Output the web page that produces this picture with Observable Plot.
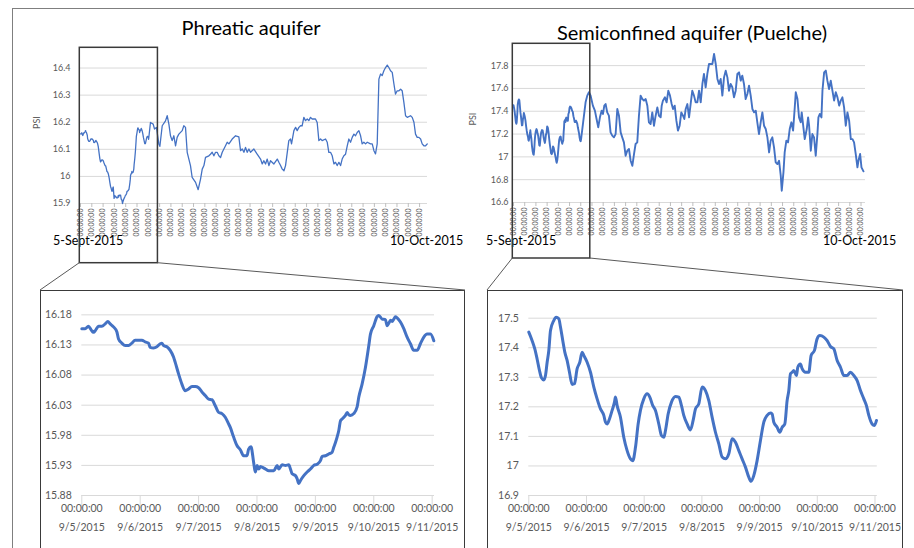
<!DOCTYPE html>
<html>
<head>
<meta charset="utf-8">
<script src="https://cdn.jsdelivr.net/npm/d3@7"></script>
<script src="https://cdn.jsdelivr.net/npm/@observablehq/plot@0.6"></script>
<style>
  html, body { margin: 0; padding: 0; background: #fff; }
  #fig { position: relative; width: 914px; height: 548px; overflow: hidden; font-family: Lato, "Open Sans", sans-serif; }
  .title { position: absolute; text-align: center; font-size: 20px; line-height: 24px; color: #000; white-space: nowrap; }
  .range { position: absolute; font-size: 12.5px; line-height: 15px; color: #000; white-space: nowrap; }
  .box { position: absolute; border: 1px solid #3a3a3a; box-sizing: border-box; }
</style>
</head>
<body>
<div id="fig"></div>
<script>
// ---- Pressure records, days after 5 Sept 2015 00:00 (UTC) ----

// Phreatic aquifer, detailed window 5–11 Sept
const phreaticDetailDays = [
  0, 0.057, 0.114, 0.16, 0.2, 0.24, 0.286, 0.343, 0.4, 0.446,
  0.486, 0.543, 0.6, 0.629, 0.686, 0.743, 0.8, 0.857, 0.914, 0.971,
  1.029, 1.086, 1.143, 1.171, 1.229, 1.286, 1.343, 1.371, 1.4, 1.457,
  1.514, 1.571, 1.6, 1.657, 1.714, 1.771, 1.829, 1.886, 1.943, 2.0,
  2.057, 2.114, 2.171, 2.229, 2.286, 2.343, 2.4, 2.457, 2.514, 2.543,
  2.6, 2.657, 2.714, 2.771, 2.829, 2.857, 2.897, 2.943, 2.971, 3.003,
  3.031, 3.06, 3.088, 3.145, 3.202, 3.288, 3.345, 3.374, 3.431, 3.488,
  3.545, 3.573, 3.602, 3.659, 3.687, 3.716, 3.745, 3.802, 3.859, 3.916,
  3.973, 4.03, 4.087, 4.116, 4.173, 4.23, 4.287, 4.315, 4.344, 4.372,
  4.401, 4.43, 4.458, 4.515, 4.544, 4.572, 4.601, 4.658, 4.715, 4.743,
  4.8, 4.858, 4.915, 4.943, 5.0, 5.057, 5.086, 5.143, 5.2, 5.229,
  5.257, 5.286, 5.314, 5.343, 5.371, 5.4, 5.457, 5.514, 5.571, 5.628,
  5.685, 5.742, 5.799, 5.857, 5.914, 5.971, 6.028
];
const phreaticDetailPsi = [
  16.157, 16.157, 16.161, 16.155, 16.151, 16.155, 16.161, 16.161, 16.165, 16.169,
  16.165, 16.160, 16.152, 16.140, 16.133, 16.129, 16.129, 16.133, 16.138, 16.138,
  16.138, 16.135, 16.133, 16.126, 16.125, 16.127, 16.132, 16.133, 16.129, 16.127,
  16.121, 16.110, 16.101, 16.082, 16.065, 16.054, 16.057, 16.061, 16.061, 16.059,
  16.052, 16.046, 16.040, 16.039, 16.029, 16.018, 16.016, 16.010, 15.999, 15.993,
  15.977, 15.963, 15.956, 15.946, 15.946, 15.957, 15.961, 15.935, 15.919, 15.930,
  15.924, 15.928, 15.927, 15.924, 15.921, 15.921, 15.930, 15.924, 15.931, 15.930,
  15.931, 15.924, 15.916, 15.913, 15.908, 15.900, 15.905, 15.913, 15.919, 15.924,
  15.930, 15.932, 15.938, 15.945, 15.946, 15.949, 15.952, 15.960, 15.968, 15.977,
  15.988, 16.004, 16.007, 16.013, 16.018, 16.014, 16.013, 16.016, 16.027, 16.043,
  16.065, 16.093, 16.129, 16.148, 16.162, 16.177, 16.179, 16.173, 16.172, 16.162,
  16.166, 16.171, 16.169, 16.173, 16.177, 16.175, 16.168, 16.157, 16.143, 16.132,
  16.121, 16.121, 16.132, 16.143, 16.148, 16.148, 16.137
];

// Phreatic aquifer, rest of the record
const phreaticLaterDays = [
  6.19, 6.43, 6.55, 6.72, 6.93, 7.02, 7.23, 7.52, 7.67, 7.82,
  7.96, 8.11, 8.26, 8.41, 8.55, 8.70, 9.00, 9.14, 9.29, 9.44,
  9.73, 9.88, 10.18, 10.41, 10.62, 10.77, 10.92, 11.06, 11.36, 11.50,
  11.65, 11.80, 11.95, 12.09, 12.24, 12.39, 12.54, 12.83, 12.98, 13.13,
  13.42, 13.72, 14.01, 14.16, 14.31, 14.46, 14.60, 14.75, 14.90, 15.04,
  15.34, 15.63, 15.93, 16.08, 16.22, 16.37, 16.52, 16.67, 16.81, 17.11,
  17.41, 17.55, 17.70, 17.85, 18.00, 18.14, 18.43, 18.58, 18.67, 18.88,
  19.03, 19.17, 19.32, 19.47, 19.61, 19.76, 19.91, 20.06, 20.20, 20.35,
  20.50, 20.79, 20.94, 21.09, 21.24, 21.38, 21.68, 21.83, 21.97, 22.12,
  22.27, 22.42, 22.56, 22.71, 22.86, 23.01, 23.15, 23.30, 23.45, 23.60,
  23.74, 23.89, 24.04, 24.19, 24.33, 24.48, 24.63, 24.78, 24.92, 25.07,
  25.22, 25.37, 25.66, 25.81, 25.96, 26.10, 26.25, 26.40, 26.55, 26.69,
  26.84, 26.99, 27.14, 27.28, 27.43, 27.58, 27.73, 27.87, 28.02, 28.17,
  28.32, 28.46, 28.61, 28.76, 28.91, 29.20, 29.35, 29.50, 29.64, 29.79,
  29.94, 30.09, 30.23, 30.38, 30.53, 30.68
];
const phreaticLaterPsi = [
  16.199, 16.193, 16.175, 16.181, 16.120, 16.111, 16.187, 16.205, 16.224, 16.193,
  16.150, 16.132, 16.150, 16.113, 16.144, 16.156, 16.169, 16.187, 16.181, 16.089,
  16.040, 15.996, 15.978, 15.951, 15.990, 16.027, 16.040, 16.070, 16.076, 16.082,
  16.089, 16.076, 16.089, 16.089, 16.076, 16.070, 16.089, 16.113, 16.126, 16.120,
  16.138, 16.150, 16.146, 16.095, 16.101, 16.089, 16.107, 16.089, 16.101, 16.089,
  16.101, 16.082, 16.064, 16.046, 16.058, 16.046, 16.064, 16.040, 16.058, 16.046,
  16.064, 16.052, 16.040, 16.027, 16.021, 16.040, 16.132, 16.138, 16.120, 16.169,
  16.181, 16.169, 16.181, 16.187, 16.187, 16.218, 16.206, 16.212, 16.206, 16.218,
  16.212, 16.212, 16.199, 16.132, 16.138, 16.132, 16.138, 16.126, 16.089, 16.089,
  16.076, 16.046, 16.052, 16.040, 16.052, 16.040, 16.064, 16.076, 16.082, 16.113,
  16.138, 16.126, 16.144, 16.156, 16.150, 16.162, 16.169, 16.150, 16.120, 16.126,
  16.120, 16.126, 16.120, 16.120, 16.095, 16.083, 16.120, 16.359, 16.378, 16.372,
  16.390, 16.402, 16.411, 16.402, 16.390, 16.384, 16.341, 16.304, 16.316, 16.316,
  16.322, 16.316, 16.273, 16.224, 16.218, 16.224, 16.218, 16.200, 16.156, 16.144,
  16.144, 16.138, 16.120, 16.113, 16.113, 16.120
];

// Semiconfined aquifer (Puelche), detailed window 5–11 Sept
const puelcheDetailDays = [
  0, 0.058, 0.104, 0.144, 0.185, 0.22, 0.26, 0.289, 0.318, 0.347,
  0.376, 0.433, 0.474, 0.52, 0.549, 0.589, 0.624, 0.664, 0.705, 0.751,
  0.791, 0.838, 0.884, 0.924, 0.953, 1.011, 1.069, 1.127, 1.184, 1.242,
  1.3, 1.329, 1.358, 1.398, 1.444, 1.485, 1.502, 1.531, 1.589, 1.646,
  1.704, 1.762, 1.802, 1.849, 1.895, 1.935, 1.993, 2.051, 2.097, 2.149,
  2.195, 2.253, 2.299, 2.34, 2.369, 2.415, 2.473, 2.542, 2.6, 2.646,
  2.686, 2.744, 2.802, 2.848, 2.889, 2.946, 3.004, 3.062, 3.12, 3.177,
  3.235, 3.293, 3.351, 3.409, 3.466, 3.524, 3.582, 3.64, 3.697, 3.755,
  3.813, 3.853, 3.9, 3.957, 4.015, 4.073, 4.131, 4.189, 4.217, 4.246,
  4.304, 4.35, 4.391, 4.437, 4.477, 4.506, 4.535, 4.564, 4.593, 4.639,
  4.662, 4.708, 4.737, 4.795, 4.853, 4.893, 4.951, 4.997, 5.044, 5.113,
  5.171, 5.228, 5.286, 5.344, 5.402, 5.46, 5.517, 5.575, 5.633, 5.691,
  5.748, 5.806, 5.852, 5.893, 5.95, 5.991, 6.026
];
const puelcheDetailPsi = [
  17.453, 17.424, 17.396, 17.362, 17.323, 17.298, 17.291, 17.306, 17.351, 17.391,
  17.458, 17.492, 17.503, 17.498, 17.470, 17.424, 17.385, 17.357, 17.317, 17.276,
  17.278, 17.329, 17.351, 17.385, 17.374, 17.351, 17.317, 17.267, 17.227, 17.193,
  17.171, 17.148, 17.142, 17.159, 17.188, 17.216, 17.233, 17.204, 17.165, 17.097,
  17.052, 17.024, 17.018, 17.063, 17.142, 17.188, 17.227, 17.244, 17.233, 17.204,
  17.188, 17.142, 17.103, 17.097, 17.120, 17.176, 17.216, 17.235, 17.233, 17.204,
  17.171, 17.142, 17.122, 17.154, 17.193, 17.210, 17.267, 17.255, 17.221, 17.165,
  17.114, 17.075, 17.030, 17.024, 17.041, 17.092, 17.080, 17.052, 17.024, 16.996,
  16.962, 16.948, 16.968, 17.018, 17.086, 17.148, 17.171, 17.179, 17.176, 17.148,
  17.131, 17.114, 17.131, 17.142, 17.221, 17.255, 17.312, 17.317, 17.323, 17.306,
  17.334, 17.345, 17.329, 17.317, 17.317, 17.374, 17.391, 17.430, 17.441, 17.436,
  17.424, 17.404, 17.396, 17.357, 17.334, 17.306, 17.306, 17.317, 17.306, 17.289,
  17.255, 17.227, 17.204, 17.171, 17.142, 17.137, 17.154
];

// Semiconfined aquifer (Puelche), rest of the record
const puelcheLaterDays = [
  6.43, 6.58, 6.73, 6.88, 7.08, 7.26, 7.41, 7.56, 7.71, 7.86,
  7.98, 8.10, 8.22, 8.36, 8.51, 8.66, 8.81, 8.96, 9.11, 9.26,
  9.41, 9.56, 9.70, 9.85, 10.00, 10.15, 10.30, 10.45, 10.60, 10.75,
  10.89, 11.04, 11.19, 11.34, 11.49, 11.64, 11.79, 11.94, 12.08, 12.23,
  12.38, 12.53, 12.68, 12.83, 12.98, 13.13, 13.22, 13.33, 13.51, 13.66,
  13.81, 13.96, 14.11, 14.23, 14.38, 14.53, 14.67, 14.82, 14.97, 15.12,
  15.24, 15.36, 15.51, 15.66, 15.80, 15.95, 16.10, 16.25, 16.40, 16.55,
  16.70, 16.85, 16.99, 17.14, 17.29, 17.44, 17.59, 17.74, 17.89, 18.04,
  18.19, 18.33, 18.48, 18.63, 18.78, 18.93, 19.08, 19.22, 19.37, 19.52,
  19.67, 19.82, 19.97, 20.12, 20.27, 20.41, 20.56, 20.71, 20.86, 21.01,
  21.16, 21.31, 21.46, 21.61, 21.75, 21.90, 22.05, 22.20, 22.35, 22.50,
  22.65, 22.80, 22.94, 23.09, 23.24, 23.39, 23.54, 23.69, 23.84, 23.93,
  24.08, 24.19, 24.34, 24.49, 24.64, 24.79, 24.94, 25.09, 25.18, 25.33,
  25.47, 25.62, 25.71, 25.86, 25.98, 26.16, 26.28, 26.37, 26.52, 26.66,
  26.81, 26.96, 27.11, 27.20, 27.32, 27.47, 27.56, 27.71, 27.86, 28.00,
  28.15, 28.30, 28.45, 28.60, 28.75, 28.90, 29.05, 29.19, 29.34, 29.49,
  29.64, 29.79, 29.94, 30.09, 30.24, 30.38, 30.53, 30.68, 30.77, 30.92,
  31.04, 31.22
];
const puelcheLaterPsi = [
  17.478, 17.537, 17.566, 17.537, 17.449, 17.405, 17.332, 17.259, 17.347, 17.405,
  17.376, 17.449, 17.463, 17.390, 17.361, 17.215, 17.186, 17.171, 17.200, 17.420,
  17.361, 17.215, 17.171, 17.127, 17.010, 17.054, 17.069, 16.966, 16.922, 17.025,
  17.113, 17.127, 17.361, 17.537, 17.507, 17.493, 17.507, 17.449, 17.303, 17.288,
  17.390, 17.273, 17.361, 17.434, 17.361, 17.347, 17.449, 17.493, 17.522, 17.478,
  17.580, 17.537, 17.463, 17.420, 17.449, 17.317, 17.230, 17.273, 17.390, 17.361,
  17.332, 17.420, 17.463, 17.347, 17.463, 17.580, 17.537, 17.478, 17.478, 17.580,
  17.478, 17.639, 17.727, 17.610, 17.727, 17.814, 17.814, 17.814, 17.902, 17.814,
  17.683, 17.639, 17.683, 17.537, 17.697, 17.756, 17.697, 17.580, 17.639, 17.610,
  17.522, 17.580, 17.727, 17.741, 17.668, 17.712, 17.639, 17.507, 17.551, 17.624,
  17.537, 17.420, 17.390, 17.405, 17.303, 17.200, 17.303, 17.390, 17.273, 17.244,
  17.171, 17.039, 17.142, 17.171, 17.083, 16.952, 16.937, 16.966, 16.835, 16.703,
  16.864, 17.039, 17.142, 17.127, 17.244, 17.303, 17.230, 17.434, 17.566, 17.507,
  17.346, 17.303, 17.390, 17.259, 17.156, 17.244, 17.346, 17.273, 17.054, 17.200,
  17.171, 17.010, 17.200, 17.346, 17.376, 17.346, 17.580, 17.741, 17.756, 17.668,
  17.595, 17.668, 17.580, 17.493, 17.566, 17.522, 17.449, 17.493, 17.522, 17.434,
  17.273, 17.390, 17.317, 17.156, 17.156, 17.127, 17.025, 16.908, 16.966, 17.025,
  16.908, 16.873
];

// Axis ticks and labels
const phreaticWideTicks = [15.9, 16, 16.1, 16.2, 16.3, 16.4];
const puelcheWideTicks = [16.6, 16.8, 17, 17.2, 17.4, 17.6, 17.8];
const phreaticZoomTicks = [15.88, 15.93, 15.98, 16.03, 16.08, 16.13, 16.18];
const puelcheZoomTicks = [16.9, 17, 17.1, 17.2, 17.3, 17.4, 17.5];
const panelTitles = ["Phreatic aquifer", "Semiconfined aquifer (Puelche)"];
const recordStart = "5-Sept-2015";
const recordEnd = "10-Oct-2015";
const timeLabel = "00:00:00";
const unitLabel = "PSI";
const zoomWindowDays = [0, 6.85];

// ---- helpers ----
const T0 = Date.UTC(2015, 8, 5);
const DAY = 864e5;
const toDate = d => new Date(T0 + d * DAY);
const rows = (days, psi) => days.slice(0, Math.min(days.length, psi.length)).map((d, i) => ({date: toDate(d), psi: psi[i]}));

const phreaticZoom = rows(phreaticDetailDays, phreaticDetailPsi);
const puelcheZoom = rows(puelcheDetailDays, puelcheDetailPsi);
const phreaticAll = phreaticZoom.concat(rows(phreaticLaterDays, phreaticLaterPsi));
const puelcheAll = puelcheZoom.concat(rows(puelcheLaterDays, puelcheLaterPsi));

const BLUE = "#4472C4";
const GRID = "#d9d9d9";
const TICKTEXT = "#595959";
const FONT = "Lato, 'Open Sans', sans-serif";

// page placement of each panel
const L = {
  tl: {left: 20, top: 40, width: 420, height: 210, mL: 60, mR: 13, mT: 14, mB: 47, span: 30.7, yDom: [15.9, 16.45], pad: 10, psiDx: -43, sw: 1.3},
  tr: {left: 455, top: 40, width: 420, height: 210, mL: 58, mR: 10, mT: 8, mB: 48, span: 31.4, yDom: [16.6, 17.95], pad: 5, psiDx: -40, sw: 1.9},
  bl: {left: 40, top: 290, width: 425, height: 258, mL: 41.3, mR: 31, mT: 12.3, mB: 53, yDom: [15.88, 16.2]},
  br: {left: 487, top: 290, width: 416, height: 258, mL: 41.3, mR: 26.2, mT: 12.9, mB: 53, yDom: [16.9, 17.55]}
};
const rectY = {tl: [47.3, 262.7], tr: [43.3, 258]};

const fig = document.getElementById("fig");
function place(node, p) {
  node.style.position = "absolute";
  node.style.left = p.left + "px";
  node.style.top = p.top + "px";
  fig.appendChild(node);
  return node;
}

function widePanel(p, data, ticks) {
  const dayTicks = d3.range(0, Math.floor(p.span) + 1).map(toDate);
  return Plot.plot({
    width: p.width, height: p.height,
    marginLeft: p.mL, marginRight: p.mR, marginTop: p.mT, marginBottom: p.mB,
    style: {fontFamily: FONT, background: "transparent", overflow: "visible", color: TICKTEXT},
    x: {type: "utc", domain: [toDate(0), toDate(p.span)]},
    y: {domain: p.yDom},
    marks: [
      Plot.gridY(ticks, {stroke: GRID, strokeOpacity: 1, strokeWidth: 1}),
      Plot.axisY(ticks, {tickSize: 0, tickPadding: p.pad, tickFormat: d => String(d), fontSize: 9, fill: TICKTEXT, label: null}),
      Plot.axisX(dayTicks, {tickSize: 4, stroke: "#bfbfbf", tickPadding: 1, tickRotate: -90, tickFormat: () => timeLabel, fontSize: 7, fill: TICKTEXT, label: null}),
      Plot.text([unitLabel], {text: d => d, frameAnchor: "left", rotate: -90, dx: p.psiDx, fontSize: 9, fill: TICKTEXT}),
      Plot.line(data, {x: "date", y: "psi", stroke: BLUE, strokeWidth: p.sw, curve: "linear"})
    ]
  });
}

function zoomPanel(p, data, ticks, fmt) {
  const dayTicks = d3.range(0, 7).map(toDate);
  return Plot.plot({
    width: p.width, height: p.height,
    marginLeft: p.mL, marginRight: p.mR, marginTop: p.mT, marginBottom: p.mB,
    style: {fontFamily: FONT, background: "transparent", overflow: "visible", color: TICKTEXT},
    x: {type: "utc", domain: [toDate(0), toDate(6.04)]},
    y: {domain: p.yDom},
    marks: [
      Plot.gridY(ticks, {stroke: GRID, strokeOpacity: 1, strokeWidth: 1}),
      Plot.axisY(ticks, {tickSize: 0, tickPadding: 10, tickFormat: fmt, fontSize: 10.5, fill: TICKTEXT, label: null}),
      Plot.axisX(dayTicks, {tickSize: 13, stroke: GRID, tickFormat: () => "", label: null}),
      Plot.axisX(dayTicks, {tickSize: 0, tickPadding: 9, tickFormat: () => timeLabel, fontSize: 10.5, fill: TICKTEXT, label: null}),
      Plot.axisX(dayTicks, {tickSize: 0, tickPadding: 28, tickFormat: d3.utcFormat("%-m/%-d/%Y"), fontSize: 10.5, fill: TICKTEXT, label: null}),
      Plot.line(data, {x: "date", y: "psi", stroke: BLUE, strokeWidth: 3, strokeLinejoin: "round", curve: "monotone-x"})
    ]
  });
}

// outer frame and zoom boxes underneath the charts
const frame = document.createElement("div");
frame.className = "box";
Object.assign(frame.style, {left: "12px", top: "8px", width: "960px", height: "600px", borderColor: "#7f7f7f"});
fig.appendChild(frame);

for (const k of ["bl", "br"]) {
  const b = document.createElement("div");
  b.className = "box";
  const p = L[k];
  Object.assign(b.style, {left: p.left + "px", top: p.top + "px", width: p.width + "px", height: "300px"});
  fig.appendChild(b);
}

// titles
[[panelTitles[0], 131, 15, 240], [panelTitles[1], 532, 20, 320]].forEach(([t, x, y, w]) => {
  const d = document.createElement("div");
  d.className = "title";
  d.textContent = t;
  Object.assign(d.style, {left: x + "px", top: y + "px", width: w + "px"});
  fig.appendChild(d);
});

const tl = place(widePanel(L.tl, phreaticAll, phreaticWideTicks), L.tl);
const tr = place(widePanel(L.tr, puelcheAll, puelcheWideTicks), L.tr);
const bl = place(zoomPanel(L.bl, phreaticZoom, phreaticZoomTicks, d3.format(".2f")), L.bl);
const br = place(zoomPanel(L.br, puelcheZoom, puelcheZoomTicks, d => String(d)), L.br);

// record start / end labels under the overview charts
[[recordStart, 53], [recordEnd, 390], [recordStart, 486], [recordEnd, 823]].forEach(([t, x]) => {
  const d = document.createElement("div");
  d.className = "range";
  d.textContent = t;
  Object.assign(d.style, {left: x + "px", top: "232.5px"});
  fig.appendChild(d);
});

// zoom rectangles and connector lines, placed with the overview x scales
const over = d3.select(fig).append("svg")
  .attr("width", 914).attr("height", 548)
  .style("position", "absolute").style("left", 0).style("top", 0).style("pointer-events", "none");

function zoomLinks(chart, p, ys, target) {
  const sx = chart.scale("x");
  const x1 = p.left + sx.apply(toDate(zoomWindowDays[0])) - 0.7;
  const x2 = p.left + sx.apply(toDate(zoomWindowDays[1]));
  over.append("rect")
    .attr("x", x1).attr("y", ys[0]).attr("width", x2 - x1).attr("height", ys[1] - ys[0])
    .attr("fill", "none").attr("stroke", "#3a3a3a").attr("stroke-width", 1.5);
  over.append("line").attr("x1", x1).attr("y1", ys[1]).attr("x2", target.left).attr("y2", target.top)
    .attr("stroke", "#595959").attr("stroke-width", 1);
  over.append("line").attr("x1", x2).attr("y1", ys[1]).attr("x2", target.left + target.width).attr("y2", target.top)
    .attr("stroke", "#595959").attr("stroke-width", 1);
}
zoomLinks(tl, L.tl, rectY.tl, L.bl);
zoomLinks(tr, L.tr, rectY.tr, L.br);
</script>
</body>
</html>
